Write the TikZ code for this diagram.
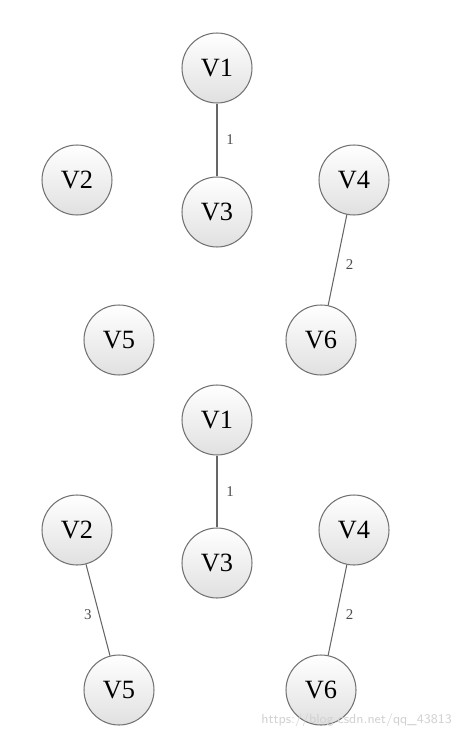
\documentclass[tikz,border=0pt]{standalone}
\usepackage{fontspec}
\setmainfont{Liberation Serif}
\usepackage{tikz}
\usetikzlibrary{positioning}

\tikzset{
  vtx/.style={circle,draw=black!55,line width=0.6pt,minimum size=1.4cm,inner sep=0pt,
    top color=white,bottom color=black!12,font=\fontsize{15}{15}\selectfont},
  wedge/.style={draw=black!60,line width=0.6pt},
  wlab/.style={font=\fontsize{8.5}{8.5}\selectfont,text=black!70,inner sep=2pt}
}

\begin{document}
\begin{tikzpicture}[x=0.02cm,y=-0.02cm]
    \useasboundingbox (0,0) rectangle (454,733);

    % first forest
    \node[vtx] (v1a) at (217,68) {V1};
    \node[vtx] (v2a) at (77,180) {V2};
    \node[vtx] (v3a) at (217,212) {V3};
    \node[vtx] (v4a) at (354,180) {V4};
    \node[vtx] (v5a) at (119,340) {V5};
    \node[vtx] (v6a) at (321,340) {V6};
    \draw[wedge] (v1a) -- node[wlab,right=3pt] {1} (v3a);
    \draw[wedge] (v4a) -- node[wlab,right=3pt,pos=0.55] {2} (v6a);

    % second forest
    \node[vtx] (v1b) at (217,420) {V1};
    \node[vtx] (v2b) at (77,530) {V2};
    \node[vtx] (v3b) at (217,563) {V3};
    \node[vtx] (v4b) at (354,530) {V4};
    \node[vtx] (v5b) at (119,690) {V5};
    \node[vtx] (v6b) at (321,690) {V6};
    \draw[wedge] (v1b) -- node[wlab,right=3pt] {1} (v3b);
    \draw[wedge] (v4b) -- node[wlab,right=3pt,pos=0.55] {2} (v6b);
    \draw[wedge] (v2b) -- node[wlab,left=2pt,pos=0.55] {3} (v5b);

    \node[anchor=east,text=black!18,font=\sffamily\fontsize{7.5}{7.5}\selectfont] (wm) at (458,720) {https://blog.csdn.net/qq\_43813};
  \end{tikzpicture}
\end{document}
